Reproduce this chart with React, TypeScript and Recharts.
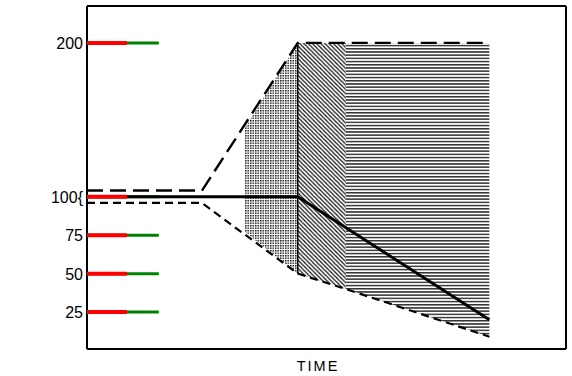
import React from "react";
import {
  ComposedChart,
  Line,
  Area,
  XAxis,
  YAxis,
  ReferenceLine,
} from "recharts";

const T_AVO2 = [0, 24, 44, 84];
const AVO2 = [104, 104, 200, 200];
const T_UBF = [0, 24, 44, 54, 84];
const UBF = [96, 96, 50, 40, 9];
const T_DEL = [0, 44, 54, 84];
const DEL = [100, 100, 80, 20];
const T_STIP = [33, 44];
const STIP_LOW = [77, 50];
const STIP_HIGH = [145, 200];
const T_DIAG = [44, 54];
const DIAG_LOW = [50, 40];
const DIAG_HIGH = [200, 200];
const T_HORIZ = [54, 84];
const HORIZ_LOW = [40, 9];
const HORIZ_HIGH = [200, 200];

const Y_TICKS = [25, 50, 75, 100, 200];
const X_DOMAIN = [0, 100];
const Y_DOMAIN = [1, 224];

const rows = (t: number[], v: number[]) => t.map((x, i) => ({ t: x, v: v[i] }));
const rangeRows = (t: number[], lo: number[], hi: number[]) =>
  t.map((x, i) => ({ t: x, range: [lo[i], hi[i]] }));

const FONT = "'Liberation Sans', Arial, sans-serif";

const YTick = (props: any) => {
  const { x, y, payload } = props;
  const v = payload.value;
  const ax = Number(x);
  const ay = Number(y);
  return (
    <g>
      <path d={`M${ax},${ay}H${ax + 40}`} stroke="red" strokeWidth={4} fill="none" />
      <text x={ax - 4} y={ay} dy={6} textAnchor="end" fontSize={16} fontFamily={FONT} fill="#000">
        {v === 100 ? "100{" : String(v)}
      </text>
    </g>
  );
};

const abs = (extra: React.CSSProperties): React.CSSProperties => ({
  position: "absolute",
  fontFamily: FONT,
  color: "#000",
  whiteSpace: "nowrap",
  lineHeight: 1,
  ...extra,
});

export default function App() {
  return (
    <div style={{ position: "absolute", left: 0, top: 0, width: 572, height: 376, background: "#fff" }}>
      <ComposedChart width={572} height={376} margin={{ top: 6, right: 6, bottom: 0, left: 0 }}>
        <defs>
          <pattern id="stip" patternUnits="userSpaceOnUse" width={2.5} height={2.5}>
            <rect x={0} y={0} width={1.5} height={1.5} fill="#1a1a1a" />
          </pattern>
          <pattern id="diag" patternUnits="userSpaceOnUse" width={4.2} height={4.2}>
            <path d="M-1,-1 L5.2,5.2 M-1,3.2 L1,5.2 M3.2,-1 L5.2,1" stroke="#111" strokeWidth={1.2} />
          </pattern>
          <pattern id="horiz" patternUnits="userSpaceOnUse" width={4} height={3.2}>
            <rect x={0} y={0} width={4} height={1.5} fill="#333" />
          </pattern>
        </defs>
        <XAxis type="number" dataKey="t" domain={X_DOMAIN} height={27} tick={false}
          axisLine={{ stroke: "#000", strokeWidth: 2 }} tickLine={false} allowDataOverflow />
        <YAxis type="number" domain={Y_DOMAIN} ticks={Y_TICKS} width={87}
          axisLine={{ stroke: "#000", strokeWidth: 2 }} tickLine={false} tickSize={0} tickMargin={0}
          tick={<YTick />} interval={0} allowDataOverflow />
        <Area data={rangeRows(T_STIP, STIP_LOW, STIP_HIGH)} dataKey="range" type="linear" stroke="none"
          fill="url(#stip)" fillOpacity={1} isAnimationActive={false} dot={false} activeDot={false} />
        <Area data={rangeRows(T_DIAG, DIAG_LOW, DIAG_HIGH)} dataKey="range" type="linear" stroke="none"
          fill="url(#diag)" fillOpacity={1} isAnimationActive={false} dot={false} activeDot={false} />
        <Area data={rangeRows(T_HORIZ, HORIZ_LOW, HORIZ_HIGH)} dataKey="range" type="linear" stroke="none"
          fill="url(#horiz)" fillOpacity={1} isAnimationActive={false} dot={false} activeDot={false} />
        {Y_TICKS.map((v) => (
          <ReferenceLine key={"tk" + v} segment={[{ x: 0, y: v }, { x: 15, y: v }]}
            stroke="green" strokeWidth={3} ifOverflow="visible" />
        ))}
        <ReferenceLine segment={[{ x: T_DIAG[0], y: DIAG_LOW[0] }, { x: T_DIAG[0], y: DIAG_HIGH[0] }]}
          stroke="#000" strokeWidth={1.5} />
        <ReferenceLine y={Y_DOMAIN[1]} stroke="#000" strokeWidth={2} ifOverflow="visible" />
        <ReferenceLine x={X_DOMAIN[1]} stroke="#000" strokeWidth={2} ifOverflow="visible" />
        <Line data={rows(T_AVO2, AVO2)} dataKey="v" type="linear" stroke="#000" strokeWidth={2.4}
          strokeDasharray="16 7" dot={false} activeDot={false} isAnimationActive={false} />
        <Line data={rows(T_UBF, UBF)} dataKey="v" type="linear" stroke="#000" strokeWidth={2.2}
          strokeDasharray="8 5" dot={false} activeDot={false} isAnimationActive={false} />
        <Line data={rows(T_DEL, DEL)} dataKey="v" type="linear" stroke="#000" strokeWidth={2.9}
          dot={false} activeDot={false} isAnimationActive={false} />
      </ComposedChart>
      <div style={abs({ left: 318, top: 366, fontSize: 14.5, letterSpacing: 2, transform: "translate(-50%, -50%)" })}>
        TIME
      </div>
    </div>
  );
}
